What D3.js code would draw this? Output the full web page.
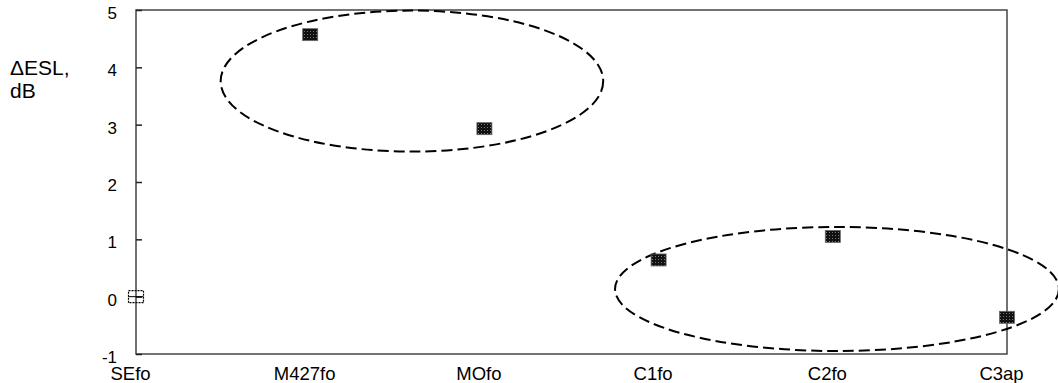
<!DOCTYPE html>
<html>
<head>
<meta charset="utf-8">
<script src="https://cdn.jsdelivr.net/npm/d3@7"></script>
<style>
  html, body { margin: 0; padding: 0; background: #fff; }
  svg { display: block; font-family: "Liberation Sans", Arial, sans-serif; }
</style>
</head>
<body>
<svg width="1058" height="383"></svg>
<script>
// data
const categories = ['SEfo', 'M427fo', 'MOfo', 'C1fo', 'C2fo', 'C3ap'];
const values = [0, 4.57, 2.93, 0.64, 1.05, -0.36];
const yTicks = [-1, 0, 1, 2, 3, 4, 5];
// grouping ellipses, in category-index / dB units
const groupCx = [1.584, 4.024];
const groupCy = [3.76, 0.134];
const groupRx = [1.098, 1.274];
const groupRy = [1.23, 1.082];

const svg = d3.select('svg');
const pad = { top: 10, right: 51, bottom: 29, left: 136 };
const width = 1058, height = 383;

const x = d3.scalePoint()
  .domain(categories)
  .range([pad.left, width - pad.right]);
const xi = d3.scaleLinear()
  .domain([0, categories.length - 1])
  .range([pad.left, width - pad.right]);
const y = d3.scaleLinear()
  .domain([-1, 5])
  .range([height - pad.bottom, pad.top]);

const defs = svg.append('defs');
const pat = defs.append('pattern')
  .attr('id', 'dots')
  .attr('width', 3).attr('height', 3)
  .attr('patternUnits', 'userSpaceOnUse');
pat.append('rect').attr('width', 3).attr('height', 3).attr('fill', '#111');
pat.append('rect').attr('x', 1).attr('y', 1).attr('width', 1).attr('height', 1).attr('fill', '#777');

// frame
svg.append('rect')
  .attr('x', pad.left)
  .attr('y', pad.top)
  .attr('width', width - pad.left - pad.right)
  .attr('height', height - pad.top - pad.bottom)
  .attr('fill', 'none')
  .attr('stroke', '#444')
  .attr('stroke-width', 1.5);

// y axis ticks, pointing inward
const yAxis = svg.append('g')
  .attr('transform', `translate(${pad.left},0)`)
  .call(d3.axisRight(y).tickValues(yTicks).tickSize(6).tickFormat(''));
yAxis.select('.domain').remove();
yAxis.selectAll('line').attr('stroke', '#222').attr('stroke-width', 1.5);

svg.append('g').selectAll('text')
  .data(yTicks)
  .join('text')
  .attr('x', pad.left - 19)
  .attr('y', d => y(d) + 9)
  .attr('text-anchor', 'end')
  .attr('font-size', 17)
  .text(d => d);

// x labels
const xAxis = svg.append('g')
  .attr('transform', `translate(0,${height - pad.bottom})`)
  .call(d3.axisBottom(x).tickSize(0).tickPadding(0));
xAxis.select('.domain').remove();
xAxis.selectAll('text')
  .attr('font-size', 18.5)
  .attr('font-family', '"Liberation Sans", Arial, sans-serif')
  .attr('fill', '#000')
  .attr('dy', null)
  .attr('y', 26)
  .attr('dx', -6);

// y title
svg.append('text').attr('x', 10).attr('y', 75).attr('font-size', 21).text('\u0394ESL,');
svg.append('text').attr('x', 10).attr('y', 98).attr('font-size', 21).text('dB');

// ellipses
svg.append('g').selectAll('ellipse')
  .data(groupCx)
  .join('ellipse')
  .attr('cx', d => xi(d))
  .attr('cy', (d, i) => y(groupCy[i]))
  .attr('rx', (d, i) => xi(groupRx[i]) - xi(0))
  .attr('ry', (d, i) => y(0) - y(groupRy[i]))
  .attr('fill', 'none')
  .attr('stroke', '#000')
  .attr('stroke-width', 2)
  .attr('stroke-dasharray', '11,5');

// markers
const mw = 15, mh = 12;
const pts = categories.map((c, i) => ({ c, v: values[i], i }));
svg.append('g').selectAll('rect')
  .data(pts.filter(d => d.i > 0))
  .join('rect')
  .attr('x', d => x(d.c) - mw / 2)
  .attr('y', d => y(d.v) - mh / 2)
  .attr('width', mw)
  .attr('height', mh)
  .attr('fill', 'url(#dots)')
  .attr('stroke', '#666')
  .attr('stroke-width', 0.8);

// reference (open) marker
const ref = pts[0];
svg.append('rect')
  .attr('x', x(ref.c) - mw / 2)
  .attr('y', y(ref.v) - mh / 2)
  .attr('width', mw)
  .attr('height', mh)
  .attr('fill', 'none')
  .attr('stroke', '#000')
  .attr('stroke-width', 1.2)
  .attr('stroke-dasharray', '2,1');
svg.append('line')
  .attr('x1', x(ref.c) - mw / 2)
  .attr('x2', x(ref.c) + mw / 2)
  .attr('y1', y(ref.v))
  .attr('y2', y(ref.v))
  .attr('stroke', '#000')
  .attr('stroke-width', 1);
</script>
</body>
</html>
